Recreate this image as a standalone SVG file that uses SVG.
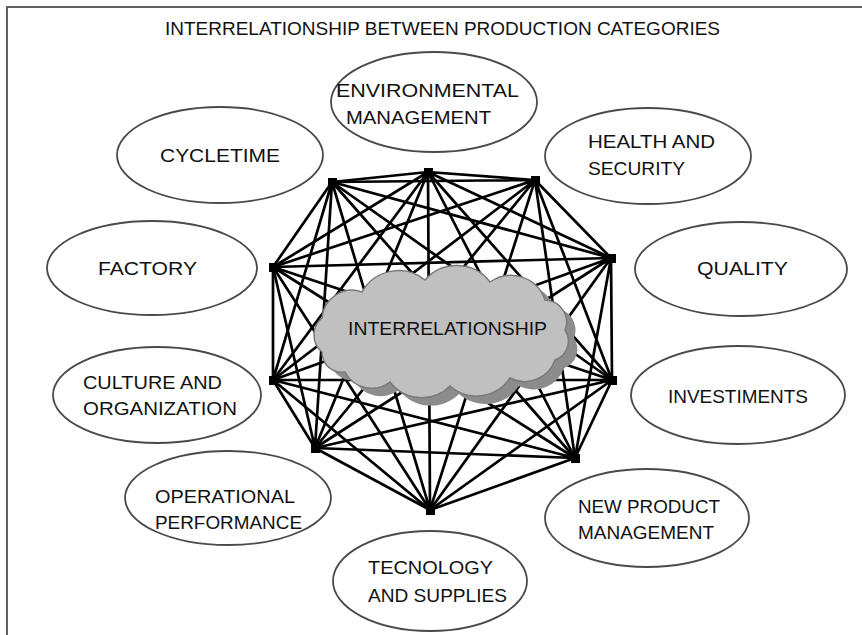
<svg xmlns="http://www.w3.org/2000/svg" width="862" height="635" viewBox="0 0 862 635">
<style>
.lbl{font-family:"Liberation Sans",Arial,sans-serif;font-size:18.5px;fill:#111}
.node ellipse{fill:#fff;stroke:#4a4a4a;stroke-width:1.8}
.edges path{fill:none;stroke:#000;stroke-width:2.7;stroke-linecap:round}
.vtx rect{fill:#000}
</style>
<defs>
<path id="cloudShape" d="M322 352 A22 22 0 0 1 322 318 A30 30 0 0 1 362 292 A42 42 0 0 1 425 280 A42 42 0 0 1 490 282 A36 36 0 0 1 545 300 A22 22 0 0 1 565 330 A20 20 0 0 1 555 360 A32 32 0 0 1 510 378 A40 40 0 0 1 450 386 A40 40 0 0 1 390 382 A30 30 0 0 1 345 372 A20 20 0 0 1 322 352 Z"/>
</defs>
<rect width="862" height="635" fill="#fff"/>
<path d="M7 635 V7 H862" fill="none" stroke="#606060" stroke-width="2"/>
<text class="lbl" x="165" y="35" textLength="555" lengthAdjust="spacingAndGlyphs">INTERRELATIONSHIP BETWEEN PRODUCTION CATEGORIES</text>

<g id="connectors" class="edges">
<path d="M428 172L535 180M428 172L611 258M428 172L612 380M428 172L575 458M428 172L430 510M428 172L315 448M428 172L273 380M428 172L273 267M428 172L332 182"/>
<path d="M535 180L611 258M535 180L612 380M535 180L575 458M535 180L430 510M535 180L315 448M535 180L273 380M535 180L273 267M535 180L332 182"/>
<path d="M611 258L612 380M611 258L575 458M611 258L430 510M611 258L315 448M611 258L273 380M611 258L273 267M611 258L332 182"/>
<path d="M612 380L575 458M612 380L430 510M612 380L315 448M612 380L273 380M612 380L273 267M612 380L332 182"/>
<path d="M575 458L430 510M575 458L315 448M575 458L273 380M575 458L273 267M575 458L332 182"/>
<path d="M430 510L315 448M430 510L273 380M430 510L273 267M430 510L332 182"/>
<path d="M315 448L273 380M315 448L273 267M315 448L332 182"/>
<path d="M273 380L273 267M273 380L332 182"/>
<path d="M273 267L332 182"/>
</g>
<g id="vertices" class="vtx">
<rect x="424" y="168" width="9" height="9"/>
<rect x="531" y="176" width="9" height="9"/>
<rect x="607" y="254" width="9" height="9"/>
<rect x="608" y="376" width="9" height="9"/>
<rect x="571" y="454" width="9" height="9"/>
<rect x="426" y="506" width="9" height="9"/>
<rect x="311" y="444" width="9" height="9"/>
<rect x="269" y="376" width="9" height="9"/>
<rect x="269" y="263" width="9" height="9"/>
<rect x="328" y="178" width="9" height="9"/>
</g>

<g id="cloud">
<use href="#cloudShape" transform="translate(9,8)" fill="#8c8c8c"/>
<use href="#cloudShape" fill="#c0c0c0" stroke="#7a7a7a" stroke-width="1.5"/>
<text class="lbl" x="348" y="335" textLength="199" lengthAdjust="spacingAndGlyphs">INTERRELATIONSHIP</text>
</g>

<g id="n-environmental" class="node">
<ellipse cx="434" cy="102" rx="103" ry="50"/>
<text class="lbl" x="336" y="97" textLength="183" lengthAdjust="spacingAndGlyphs">ENVIRONMENTAL</text>
<text class="lbl" x="346" y="124" textLength="145" lengthAdjust="spacingAndGlyphs">MANAGEMENT</text>
</g>
<g id="n-health" class="node">
<ellipse cx="648" cy="156" rx="103" ry="48"/>
<text class="lbl" x="588" y="148" textLength="127" lengthAdjust="spacingAndGlyphs">HEALTH AND</text>
<text class="lbl" x="588" y="175" textLength="97" lengthAdjust="spacingAndGlyphs">SECURITY</text>
</g>
<g id="n-cycletime" class="node">
<ellipse cx="220" cy="155" rx="103" ry="48"/>
<text class="lbl" x="160" y="162" textLength="120" lengthAdjust="spacingAndGlyphs">CYCLETIME</text>
</g>
<g id="n-factory" class="node">
<ellipse cx="152" cy="268" rx="105" ry="47"/>
<text class="lbl" x="98" y="275" textLength="99" lengthAdjust="spacingAndGlyphs">FACTORY</text>
</g>
<g id="n-quality" class="node">
<ellipse cx="741" cy="269" rx="106" ry="47"/>
<text class="lbl" x="697" y="275" textLength="91" lengthAdjust="spacingAndGlyphs">QUALITY</text>
</g>
<g id="n-culture" class="node">
<ellipse cx="157" cy="395" rx="104" ry="48"/>
<text class="lbl" x="83" y="389" textLength="139" lengthAdjust="spacingAndGlyphs">CULTURE AND</text>
<text class="lbl" x="83" y="415" textLength="154" lengthAdjust="spacingAndGlyphs">ORGANIZATION</text>
</g>
<g id="n-investiments" class="node">
<ellipse cx="738" cy="395" rx="107" ry="49"/>
<text class="lbl" x="668" y="403" textLength="140" lengthAdjust="spacingAndGlyphs">INVESTIMENTS</text>
</g>
<g id="n-operational" class="node">
<ellipse cx="228" cy="498" rx="103" ry="47"/>
<text class="lbl" x="155" y="503" textLength="140" lengthAdjust="spacingAndGlyphs">OPERATIONAL</text>
<text class="lbl" x="155" y="529" textLength="147" lengthAdjust="spacingAndGlyphs">PERFORMANCE</text>
</g>
<g id="n-newproduct" class="node">
<ellipse cx="647" cy="518" rx="102" ry="49"/>
<text class="lbl" x="578" y="513" textLength="142" lengthAdjust="spacingAndGlyphs">NEW PRODUCT</text>
<text class="lbl" x="578" y="539" textLength="136" lengthAdjust="spacingAndGlyphs">MANAGEMENT</text>
</g>
<g id="n-tecnology" class="node">
<ellipse cx="430" cy="581" rx="97" ry="50"/>
<text class="lbl" x="368" y="574" textLength="125" lengthAdjust="spacingAndGlyphs">TECNOLOGY</text>
<text class="lbl" x="368" y="602" textLength="139" lengthAdjust="spacingAndGlyphs">AND SUPPLIES</text>
</g>
</svg>
